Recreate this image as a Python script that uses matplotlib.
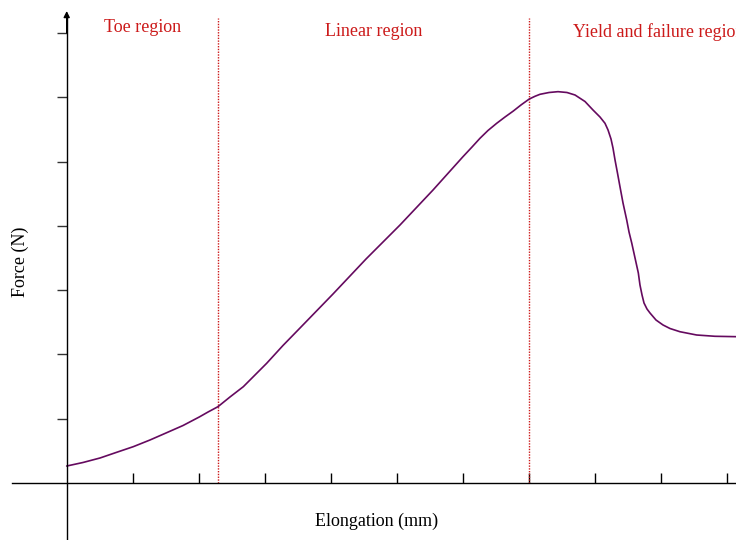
import matplotlib
matplotlib.use("Agg")
import matplotlib.pyplot as plt

# Data (tick units)
elongation = [0.0, 0.247, 0.505, 0.747, 1.009, 1.262, 1.505, 1.762, 2.009, 2.141,
              2.292, 2.474, 2.676, 2.853, 3.030, 3.277, 3.535, 4.035, 4.535, 5.05,
              5.55, 6.0, 6.141, 6.262, 6.383, 6.515, 6.641, 6.767, 6.883, 7.009,
              7.095, 7.171, 7.308, 7.444, 7.580, 7.702, 7.853, 7.974, 8.080, 8.156,
              8.202, 8.247, 8.277, 8.308, 8.345, 8.383, 8.429, 8.485, 8.520, 8.561,
              8.611, 8.661, 8.686, 8.717, 8.747, 8.792, 8.838, 8.929, 9.035, 9.141,
              9.292, 9.545, 9.823, 10.141]
force = [0.264, 0.319, 0.389, 0.474, 0.565, 0.669, 0.778, 0.894, 1.027, 1.104,
         1.187, 1.338, 1.498, 1.680, 1.862, 2.139, 2.411, 2.940, 3.484, 4.013,
         4.557, 5.071, 5.226, 5.362, 5.483, 5.595, 5.693, 5.786, 5.880, 5.973,
         6.015, 6.046, 6.074, 6.087, 6.074, 6.035, 5.934, 5.802, 5.693, 5.595,
         5.491, 5.351, 5.211, 5.024, 4.822, 4.609, 4.355, 4.091, 3.904, 3.733,
         3.500, 3.267, 3.080, 2.925, 2.800, 2.707, 2.644, 2.535, 2.458, 2.403,
         2.353, 2.302, 2.282, 2.276]
region_bounds = [2.292, 7.0]
region_labels = ["Toe region", "Linear region", "Yield and failure region"]
x_ticks = list(range(1, 11))
y_ticks = list(range(1, 8))

W, H = 736, 540
fig = plt.figure(figsize=(W / 100, H / 100), dpi=100)
ax = fig.add_axes([0, 0, 1, 1])
ax.set_xlim(-66.7 / 66, (W - 66.7) / 66)
ax.set_ylim(-(H - 483) / 64.29, 483 / 64.29)

serif = ["Liberation Serif", "DejaVu Serif"]
red = "#cc1a1a"

# spines as axes through origin
for s in ["top", "right"]:
    ax.spines[s].set_visible(False)
ax.spines["left"].set_position(("data", 0))
ax.spines["bottom"].set_position(("data", 0))
ax.spines["left"].set_bounds(-1, 7.25)
ax.spines["bottom"].set_bounds((12 - 66.7) / 66, 11)
for s in ["left", "bottom"]:
    ax.spines[s].set_linewidth(1.0)
    ax.spines[s].set_color("black")

ax.set_xticks(x_ticks)
ax.set_yticks(y_ticks)
ax.set_xticklabels([])
ax.set_yticklabels([])
ax.tick_params(axis="x", direction="in", length=7.2, width=1.0, color="black")
ax.tick_params(axis="y", direction="out", length=7.2, width=1.0, color="#333333")

# arrow on y axis
ax.annotate("", xy=(0, (483 - 11) / 64.29), xytext=(0, 7.0),
            arrowprops=dict(arrowstyle="-|>", color="black", lw=1.0,
                            mutation_scale=9, shrinkA=0, shrinkB=0))

# region boundaries
for xb in region_bounds:
    ax.plot([xb, xb], [0, (483 - 18) / 64.29], color=red, lw=1.0,
            linestyle=(0, (1, 1)))

# curve
ax.plot(elongation, force, color="#650a5f", lw=1.2, solid_capstyle="round",
        solid_joinstyle="round")

# region labels (pixel positions)
fig.text(142.2 / W, 1 - 32.3 / H, region_labels[0], color=red, fontsize=13,
         family=serif, ha="center", va="baseline")
fig.text(373.8 / W, 1 - 35.7 / H, region_labels[1], color=red, fontsize=13,
         family=serif, ha="center", va="baseline")
fig.text(573.3 / W, 1 - 36.7 / H, region_labels[2], color=red, fontsize=13,
         family=serif, ha="left", va="baseline")

# axis labels
fig.text(376.5 / W, 1 - 525.7 / H, "Elongation (mm)", color="black", fontsize=13,
         family=serif, ha="center", va="baseline")
fig.text(20.5 / W, 1 - 262 / H, "Force (N)", color="black", fontsize=13,
         family=serif, ha="center", va="center", rotation=90)

fig.savefig("out.png", dpi=100)
